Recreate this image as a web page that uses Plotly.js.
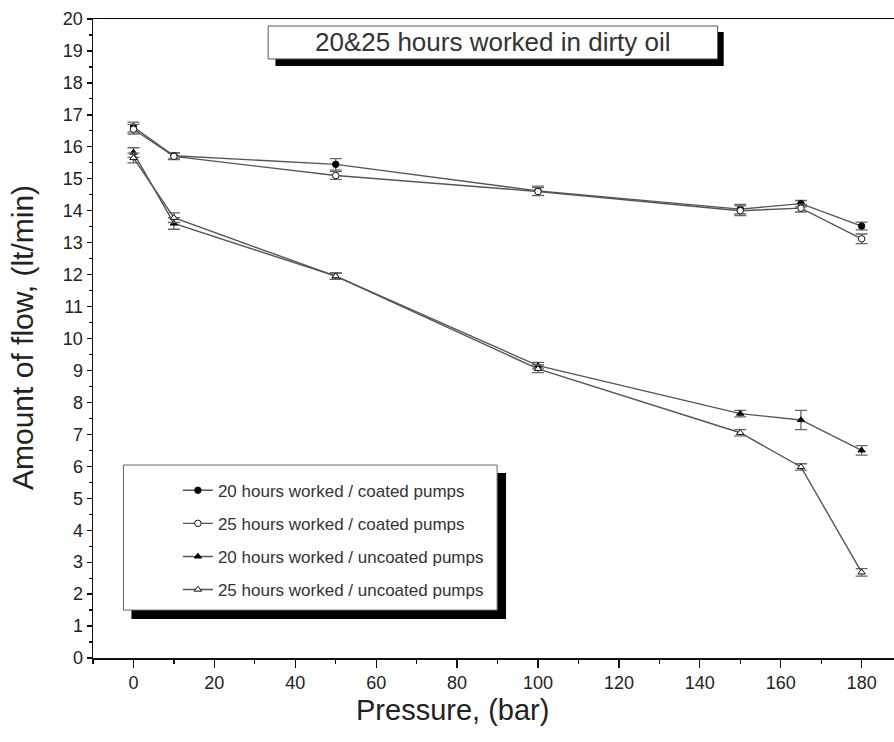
<!DOCTYPE html>
<html>
<head>
<meta charset="utf-8">
<script src="https://cdn.plot.ly/plotly-3.0.1.min.js"></script>
<style>
html,body{margin:0;padding:0;background:#fff;}
#chart{width:894px;height:742px;}
</style>
</head>
<body>
<div id="chart"></div>
<script>
// Data
const pressure = [0, 10, 50, 100, 150, 165, 180];

const coated20 = [16.62, 15.72, 15.45, 14.62, 14.05, 14.22, 13.52];
const coated20Err = [0.15, 0.1, 0.18, 0.15, 0.15, 0.1, 0.12];

const coated25 = [16.55, 15.7, 15.1, 14.6, 14.0, 14.08, 13.12];
const coated25Err = [0.15, 0.1, 0.12, 0.12, 0.15, 0.12, 0.15];

const uncoated20 = [15.82, 13.6, 11.95, 9.15, 7.65, 7.45, 6.5];
const uncoated20Err = [0.15, 0.18, 0.1, 0.1, 0.1, 0.3, 0.15];

const uncoated25 = [15.65, 13.78, 11.95, 9.05, 7.05, 5.98, 2.68];
const uncoated25Err = [0.15, 0.15, 0.1, 0.12, 0.1, 0.1, 0.12];

const seriesNames = [
  "20 hours worked / coated pumps",
  "25 hours worked / coated pumps",
  "20 hours worked / uncoated pumps",
  "25 hours worked / uncoated pumps"
];

const titleText = "20&25 hours worked in dirty oil";
const xTitle = "Pressure, (bar)";
const yTitle = "Amount of flow, (lt/min)";

const lineColor = "#555";
const errColor = "#666";

function mk(y, err, name, symbol, fill, grp) {
  return {
    x: pressure, y: y, name: name, type: "scatter", mode: "lines+markers",
    legendgroup: grp,
    line: {color: lineColor, width: 1.4},
    marker: {symbol: symbol, size: 6.5, color: fill, line: {color: "#111", width: 1}},
    error_y: {type: "data", array: err, visible: true, color: errColor, thickness: 1.3, width: 6}
  };
}

const traces = [
  mk(coated20, coated20Err, seriesNames[0], "circle", "#000", "g1"),
  mk(coated25, coated25Err, seriesNames[1], "circle", "#fff", "g2"),
  mk(uncoated20, uncoated20Err, seriesNames[2], "triangle-up", "#000", "g3"),
  mk(uncoated25, uncoated25Err, seriesNames[3], "triangle-up", "#fff", "g4")
];

const font = "Liberation Sans, Arial, sans-serif";

const layout = {
  width: 894, height: 742,
  margin: {l: 93, r: 0, t: 19, b: 84},
  paper_bgcolor: "#fff", plot_bgcolor: "#fff",
  font: {family: font, color: "#222"},
  showlegend: true,
  xaxis: {
    range: [-10, 188], showgrid: false, zeroline: false,
    showline: true, linecolor: "#111", linewidth: 1.5, mirror: true,
    ticks: "outside", ticklen: 8, tickwidth: 1.3, tickcolor: "#111",
    tick0: 0, dtick: 20,
    minor: {dtick: 10, ticks: "outside", ticklen: 4, tickcolor: "#111", tickwidth: 1.2},
    tickfont: {size: 18, color: "#222", family: font}
  },
  yaxis: {
    range: [0, 20], showgrid: false, zeroline: false,
    showline: true, linecolor: "#111", linewidth: 1.5, mirror: true,
    ticks: "outside", ticklen: 5, tickwidth: 1.3, tickcolor: "#111",
    tick0: 0, dtick: 1,
    minor: {dtick: 0.5, ticks: "outside", ticklen: 3, tickcolor: "#111", tickwidth: 1.2},
    tickfont: {size: 18, color: "#222", family: font}
  },
  legend: {
    x: 0.106, y: 0.29, xanchor: "left", yanchor: "top",
    bgcolor: "rgba(0,0,0,0)", borderwidth: 0,
    font: {size: 17, color: "#333", family: font},
    tracegroupgap: 8, itemwidth: 30
  },
  shapes: [
    // title box shadow + box
    {type: "rect", xref: "x", yref: "y", x0: 35.1, x1: 145.9, y0: 18.53, y1: 19.59,
     fillcolor: "#000", line: {width: 0}, layer: "above"},
    {type: "rect", xref: "x", yref: "y", x0: 33.3, x1: 144.4, y0: 18.75, y1: 19.78,
     fillcolor: "#fff", line: {color: "#555", width: 1}, layer: "above"},
    // legend box shadow + box
    {type: "rect", xref: "x", yref: "y", x0: -0.5, x1: 92.1, y0: 1.22, y1: 5.79,
     fillcolor: "#000", line: {width: 0}, layer: "above"},
    {type: "rect", xref: "x", yref: "y", x0: -2.47, x1: 89.9, y0: 1.5, y1: 6.04,
     fillcolor: "#fff", line: {color: "#666", width: 1}, layer: "above"}
  ],
  annotations: [
    {text: titleText, xref: "x", yref: "y", x: 88.85, y: 19.27, showarrow: false,
     xanchor: "center", yanchor: "middle",
     font: {size: 26, color: "#333", family: font}},
    {text: xTitle, xref: "paper", yref: "paper", x: (452 - 93) / 801, y: -(710 - 658) / 639,
     showarrow: false, xanchor: "center", yanchor: "middle",
     font: {size: 29, color: "#222", family: font}},
    {text: yTitle, xref: "paper", yref: "paper", x: -(93 - 22) / 801, y: (658 - 338) / 639,
     showarrow: false, xanchor: "center", yanchor: "middle", textangle: -90,
     font: {size: 30, color: "#222", family: font}}
  ]
};

Plotly.newPlot("chart", traces, layout, {displayModeBar: false, staticPlot: true});
</script>
</body>
</html>
